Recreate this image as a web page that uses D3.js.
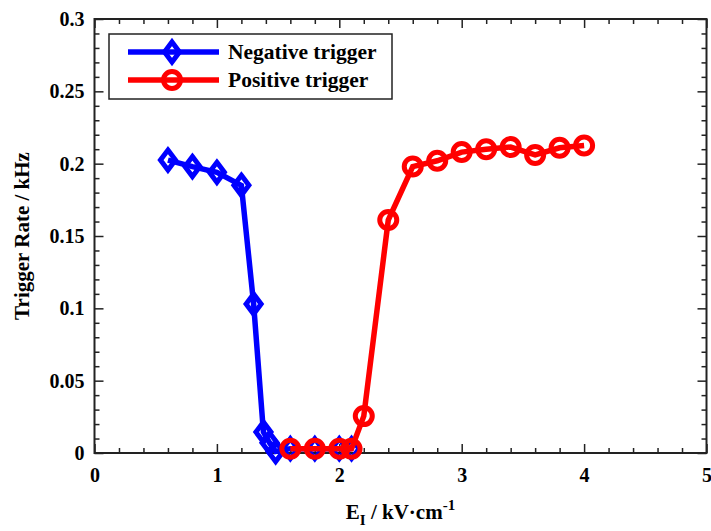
<!DOCTYPE html>
<html>
<head>
<meta charset="utf-8">
<script src="https://cdn.jsdelivr.net/npm/d3@7"></script>
<style>
  body { margin: 0; background: #fff; }
  text { font-family: "Liberation Serif", "Times New Roman", serif; font-weight: bold; fill: #000; }
</style>
</head>
<body>
<div id="chart"></div>
<script>
var svgWidth = 711;
var svgHeight = 531;

// data
var negX = [0.6, 0.8, 1.0, 1.2, 1.3, 1.38, 1.43, 1.48, 1.6, 1.8, 2.0, 2.1];
var negY = [0.2025, 0.198, 0.194, 0.185, 0.103, 0.0145, 0.007, 0.001, 0.003, 0.003, 0.003, 0.003];
var posX = [1.6, 1.8, 2.0, 2.1, 2.2, 2.4, 2.6, 2.8, 3.0, 3.2, 3.4, 3.6, 3.8, 4.0];
var posY = [0.003, 0.003, 0.003, 0.003, 0.0255, 0.161, 0.198, 0.202, 0.208, 0.21, 0.2115, 0.206, 0.211, 0.2125];

var xTicks = [0, 1, 2, 3, 4, 5];
var yTicks = [0, 0.05, 0.1, 0.15, 0.2, 0.25, 0.3];
var yTickLabels = ["0", "0.05", "0.1", "0.15", "0.2", "0.25", "0.3"];

var negative = negX.map(function(d, i) { return {x: d, y: negY[i]}; });
var positive = posX.map(function(d, i) { return {x: d, y: posY[i]}; });

var plot = {left: 94.5, right: 706.5, top: 19, bottom: 453};

var svg = d3.select("#chart").append("svg")
  .attr("width", svgWidth)
  .attr("height", svgHeight);

var xScale = d3.scaleLinear().domain([0, 5]).range([plot.left, plot.right]);
var yScale = d3.scaleLinear().domain([0, 0.3]).range([plot.bottom, plot.top]);

var xMinor = d3.range(0, 5.001, 0.2).filter(function(v) { return Math.abs(v - Math.round(v)) > 1e-6; });
var yMinor = d3.range(0, 0.3001, 0.01).filter(function(v) { return Math.abs(v * 20 - Math.round(v * 20)) > 1e-6; });

// axes with inward ticks on all four sides
function styleAxis(g) {
  g.select(".domain").remove();
  g.selectAll("line").attr("stroke", "#222").attr("stroke-width", 1.5);
  g.selectAll("text").attr("font-size", 20).attr("font-family", "Liberation Serif").attr("font-weight", "bold").attr("fill", "#000");
}

svg.append("g")
  .attr("transform", "translate(0," + plot.bottom + ")")
  .call(d3.axisBottom(xScale).tickValues(xTicks).tickSize(-9).tickSizeOuter(0).tickPadding(15).tickFormat(d3.format("d")))
  .call(styleAxis);
svg.append("g")
  .attr("transform", "translate(0," + plot.bottom + ")")
  .call(d3.axisBottom(xScale).tickValues(xMinor).tickSize(-5).tickSizeOuter(0).tickFormat(""))
  .call(styleAxis);
svg.append("g")
  .attr("transform", "translate(0," + plot.top + ")")
  .call(d3.axisTop(xScale).tickValues(xTicks).tickSize(-9).tickSizeOuter(0).tickFormat(""))
  .call(styleAxis);
svg.append("g")
  .attr("transform", "translate(0," + plot.top + ")")
  .call(d3.axisTop(xScale).tickValues(xMinor).tickSize(-5).tickSizeOuter(0).tickFormat(""))
  .call(styleAxis);

svg.append("g")
  .attr("transform", "translate(" + plot.left + ",0)")
  .call(d3.axisLeft(yScale).tickValues(yTicks).tickSize(-9).tickSizeOuter(0).tickPadding(10)
    .tickFormat(function(d, i) { return yTickLabels[i]; }))
  .call(styleAxis);
svg.append("g")
  .attr("transform", "translate(" + plot.left + ",0)")
  .call(d3.axisLeft(yScale).tickValues(yMinor).tickSize(-5).tickSizeOuter(0).tickFormat(""))
  .call(styleAxis);
svg.append("g")
  .attr("transform", "translate(" + plot.right + ",0)")
  .call(d3.axisRight(yScale).tickValues(yTicks).tickSize(-9).tickSizeOuter(0).tickFormat(""))
  .call(styleAxis);
svg.append("g")
  .attr("transform", "translate(" + plot.right + ",0)")
  .call(d3.axisRight(yScale).tickValues(yMinor).tickSize(-5).tickSizeOuter(0).tickFormat(""))
  .call(styleAxis);

// frame
svg.append("rect")
  .attr("x", plot.left)
  .attr("y", plot.top)
  .attr("width", plot.right - plot.left)
  .attr("height", plot.bottom - plot.top)
  .attr("fill", "none")
  .attr("stroke", "#222")
  .attr("stroke-width", 2);

var line = d3.line()
  .x(function(d) { return xScale(d.x); })
  .y(function(d) { return yScale(d.y); });

var diamond = "M0,-10L7.5,0L0,10L-7.5,0Z";

// negative trigger (blue)
svg.append("path")
  .datum(negative)
  .attr("d", line)
  .attr("fill", "none")
  .attr("stroke", "#0000ff")
  .attr("stroke-width", 5.5);
svg.selectAll(".neg")
  .data(negative)
  .enter()
  .append("path")
  .attr("class", "neg")
  .attr("d", diamond)
  .attr("transform", function(d) { return "translate(" + xScale(d.x) + "," + yScale(d.y) + ")"; })
  .attr("fill", "none")
  .attr("stroke", "#0000ff")
  .attr("stroke-width", 5);

// positive trigger (red)
svg.append("path")
  .datum(positive)
  .attr("d", line)
  .attr("fill", "none")
  .attr("stroke", "#ff0000")
  .attr("stroke-width", 5.5);
svg.selectAll(".pos")
  .data(positive)
  .enter()
  .append("circle")
  .attr("class", "pos")
  .attr("cx", function(d) { return xScale(d.x); })
  .attr("cy", function(d) { return yScale(d.y); })
  .attr("r", 8.5)
  .attr("fill", "none")
  .attr("stroke", "#ff0000")
  .attr("stroke-width", 5);

// legend
var legend = svg.append("g");
legend.append("rect")
  .attr("x", 109).attr("y", 34)
  .attr("width", 283).attr("height", 65)
  .attr("fill", "#fff")
  .attr("stroke", "#222")
  .attr("stroke-width", 1.5);

var legendItems = [
  {label: "Negative trigger", color: "#0000ff", y: 52, marker: "diamond"},
  {label: "Positive trigger", color: "#ff0000", y: 80, marker: "circle"}
];
legendItems.forEach(function(it) {
  legend.append("line")
    .attr("x1", 128).attr("x2", 219)
    .attr("y1", it.y).attr("y2", it.y)
    .attr("stroke", it.color)
    .attr("stroke-width", 5.5);
  if (it.marker === "diamond") {
    legend.append("path")
      .attr("d", diamond)
      .attr("transform", "translate(172," + it.y + ")")
      .attr("fill", "none").attr("stroke", it.color).attr("stroke-width", 5);
  } else {
    legend.append("circle")
      .attr("cx", 172).attr("cy", it.y).attr("r", 8.5)
      .attr("fill", "none").attr("stroke", it.color).attr("stroke-width", 5);
  }
  legend.append("text")
    .attr("x", 228)
    .attr("y", it.y + 7)
    .attr("font-size", 21.5)
    .text(it.label);
});

// axis titles
svg.append("text")
  .attr("transform", "rotate(-90)")
  .attr("x", -(plot.top + plot.bottom) / 2)
  .attr("y", 29)
  .attr("text-anchor", "middle")
  .attr("font-size", 21)
  .text("Trigger Rate / kHz");

var xTitle = svg.append("text")
  .attr("x", (plot.left + plot.right) / 2)
  .attr("y", 519)
  .attr("text-anchor", "middle")
  .attr("font-size", 21);
xTitle.append("tspan").text("E");
xTitle.append("tspan").attr("font-size", 15).attr("dy", 6).text("I");
xTitle.append("tspan").attr("dy", -6).text(" / kV\u00b7cm");
xTitle.append("tspan").attr("font-size", 15).attr("dy", -9).text("-1");
</script>
</body>
</html>
